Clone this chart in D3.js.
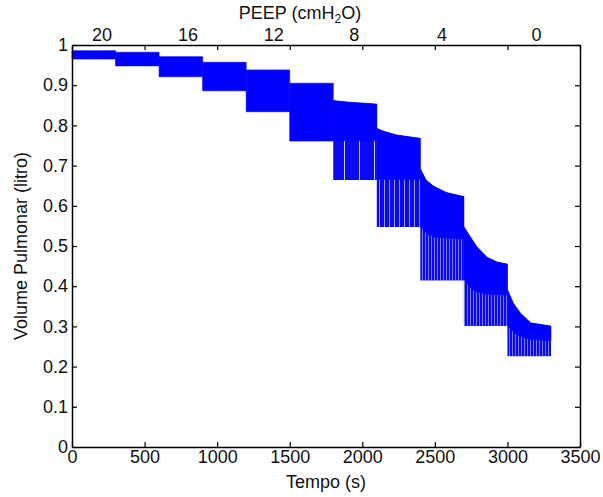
<!DOCTYPE html>
<html>
<head>
<meta charset="utf-8">
<title>Volume pulmonar x PEEP</title>
<style>
  body { margin: 0; background: #fff; }
  text { font-family: "Liberation Sans", Arial, sans-serif; fill: #111; }
</style>
</head>
<body>
<svg width="603" height="497"></svg>
<script src="https://cdn.jsdelivr.net/npm/d3@7"></script>
<script>
// 11 PEEP steps of 300 s each (20 -> 0 cmH2O)
var stepStart = [0, 300, 600, 900, 1200, 1500, 1800, 2100, 2400, 2700, 3000]
var stepLen = 300

// labels of the top (PEEP) axis and the time where each one sits
var peepLabels = ['20', '16', '12', '8', '4', '0']
var peepLabelAt = [207, 800, 1390, 1945, 2550, 3200]

var xTicks = [0, 500, 1000, 1500, 2000, 2500, 3000, 3500]
var yTicks = [0, 0.1, 0.2, 0.3, 0.4, 0.5, 0.6, 0.7, 0.8, 0.9, 1]

// upper envelope of the volume signal (end of inspiration), [t (s), litro]
var topEnv = [
  [[0, 0.986], [300, 0.986]],
  [[300, 0.982], [600, 0.982]],
  [[600, 0.971], [900, 0.971]],
  [[900, 0.957], [1200, 0.957]],
  [[1200, 0.938], [1500, 0.938]],
  [[1500, 0.905], [1800, 0.905]],
  [[1800, 0.862], [1900, 0.858], [2100, 0.853]],
  [[2100, 0.793], [2130, 0.788], [2170, 0.783], [2240, 0.776], [2400, 0.768]],
  [[2400, 0.692], [2440, 0.664], [2490, 0.649], [2580, 0.633], [2700, 0.623]],
  [[2700, 0.548], [2750, 0.52], [2790, 0.498], [2860, 0.472], [2930, 0.46], [3000, 0.455]],
  [[3000, 0.392], [3040, 0.358], [3090, 0.333], [3160, 0.309], [3300, 0.301]]
]

// lower edge of the dense part of the trace
var midEnv = [
  [[0, 0.965], [300, 0.965]],
  [[300, 0.948], [600, 0.948]],
  [[600, 0.921], [900, 0.921]],
  [[900, 0.886], [1200, 0.886]],
  [[1200, 0.834], [1500, 0.834]],
  [[1500, 0.761], [1800, 0.761]],
  [[1800, 0.762], [2100, 0.762]],
  [[2100, 0.666], [2400, 0.666]],
  [[2400, 0.548], [2450, 0.53], [2500, 0.522], [2700, 0.517]],
  [[2700, 0.418], [2760, 0.39], [2850, 0.38], [3000, 0.378]],
  [[3000, 0.302], [3060, 0.28], [3150, 0.268], [3300, 0.264]]
]

// lowest volume reached in each step (end of expiration)
var lowLevel = [0.965, 0.948, 0.921, 0.886, 0.834, 0.761, 0.664, 0.547, 0.414, 0.301, 0.226]

var svg = d3.select('svg'),
  margin = {left: 72, right: 23, top: 45, bottom: 50},
  width = +svg.attr('width'),
  height = +svg.attr('height')

var x = d3.scaleLinear().domain([0, 3500]).range([margin.left, width - margin.right])
var y = d3.scaleLinear().domain([0, 1]).range([height - margin.bottom, margin.top])

// stripe patterns for the sparse lower part of the trace
var defs = svg.append('defs')
function stripes (id, w, light) {
  var p = defs.append('pattern').attr('id', id)
    .attr('patternUnits', 'userSpaceOnUse').attr('width', w).attr('height', 20)
  p.append('rect').attr('width', w).attr('height', 20).attr('fill', light)
  p.append('rect').attr('width', w - 1).attr('height', 20).attr('fill', '#0a0af0')
}
stripes('s-sparse', 15, '#d0d0f4')
stripes('s-mid', 5, '#9a9ae0')
stripes('s-fine', 3, '#7c7cd8')

var line = d3.line().x(d => x(d[0])).y(d => y(d[1]))

var trace = svg.append('g')
stepStart.forEach(function (s, i) {
  var e = s + stepLen
  var top = topEnv[i], mid = midEnv[i]
  if (lowLevel[i] < d3.min(mid, d => d[1]) - 0.002) {
    var fill = i < 7 ? 's-sparse' : (i < 8 ? 's-mid' : 's-fine')
    trace.append('path')
      .attr('d', line(top.concat([[e, lowLevel[i]], [s, lowLevel[i]]])) + 'Z')
      .attr('fill', 'url(#' + fill + ')')
  }
  trace.append('path')
    .attr('d', line(top.concat(mid.slice().reverse())) + 'Z')
    .attr('fill', '#0000ff')
    .attr('stroke', '#0000ff').attr('stroke-width', 0.6)
})

// axes, MATLAB style box with inward ticks
var fs = '18px'
var gx = svg.append('g').attr('transform', 'translate(0,' + y(0) + ')')
  .call(d3.axisBottom(x).tickValues(xTicks).tickSizeInner(-5).tickSizeOuter(0).tickPadding(3)
    .tickFormat(d3.format('d')))
var gy = svg.append('g').attr('transform', 'translate(' + x(0) + ',0)')
  .call(d3.axisLeft(y).tickValues(yTicks).tickSizeInner(-5).tickSizeOuter(0).tickPadding(4)
    .tickFormat(d3.format('~g')))
var gt = svg.append('g').attr('transform', 'translate(0,' + y(1) + ')')
  .call(d3.axisTop(x).tickValues(xTicks).tickSizeInner(-5).tickSizeOuter(0).tickFormat(''))
var gr = svg.append('g').attr('transform', 'translate(' + x(3500) + ',0)')
  .call(d3.axisRight(y).tickValues(yTicks).tickSizeInner(-5).tickSizeOuter(0).tickFormat(''))

;[gx, gy, gt, gr].forEach(function (g) {
  g.selectAll('.domain').attr('stroke', '#000').attr('stroke-width', 1.5)
  g.selectAll('.tick line').attr('stroke', '#000').attr('stroke-width', 1.2)
  g.selectAll('.tick text').attr('font-size', fs).attr('font-family', null).attr('fill', '#111')
})
gx.selectAll('.tick text').attr('dy', '0.74em')

// PEEP labels along the top
svg.append('g').selectAll('text')
  .data(peepLabels).enter()
  .append('text')
  .attr('x', (d, i) => x(peepLabelAt[i]))
  .attr('y', y(1) - 4)
  .attr('text-anchor', 'middle')
  .attr('font-size', fs)
  .text(d => d)

var peepTitle = svg.append('text')
  .attr('x', 300).attr('y', 19)
  .attr('text-anchor', 'middle')
  .attr('font-size', fs)
peepTitle.append('tspan').text('PEEP (cmH')
peepTitle.append('tspan').attr('font-size', '12px').attr('dy', 4).text('2')
peepTitle.append('tspan').attr('dy', -4).text('O)')

svg.append('text')
  .attr('x', (x(0) + x(3500)) / 2).attr('y', 488)
  .attr('text-anchor', 'middle')
  .attr('font-size', fs)
  .text('Tempo (s)')

svg.append('text')
  .attr('transform', 'translate(27,' + (y(0) + y(1)) / 2 + ') rotate(-90)')
  .attr('text-anchor', 'middle')
  .attr('font-size', fs)
  .text('Volume Pulmonar (litro)')
</script>
</body>
</html>
